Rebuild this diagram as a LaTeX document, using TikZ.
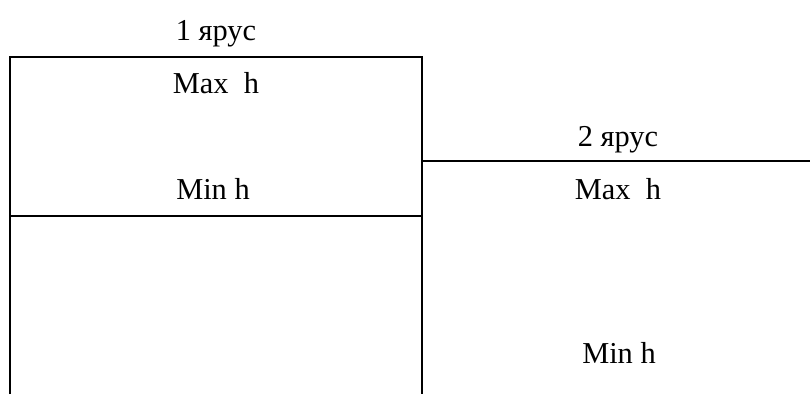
\documentclass[tikz,border=0pt]{standalone}
\usepackage{fontspec}
\setmainfont{Liberation Serif}
\begin{document}
\begin{tikzpicture}[x=1bp,y=-1bp,
  wall/.style={line width=2.6bp,line cap=butt},
  lbl/.style={anchor=base,inner sep=0pt,font=\fontsize{30.5}{34}\selectfont}]
\useasboundingbox (0,0) rectangle (810,394);
% tier 1 column
\coordinate (t1tl) at (10,57);
\coordinate (t1tr) at (422,57);
\coordinate (t1bl) at (10,394);
\coordinate (t1br) at (422,394);
\coordinate (t1ml) at (10,216);
\coordinate (t1mr) at (422,216);
% tier 2 level
\coordinate (t2l) at (422,161);
\coordinate (t2r) at (810,161);
\draw[wall] (t1bl) -- (t1tl) -- (t1tr) -- (t1br);
\draw[wall] (t1ml) -- (t1mr);
\draw[wall] (t2l) -- (t2r);
% labels
\node[lbl] (tier1) at (216,40) {1 ярус};
\node[lbl] (max1) at (216,93) {Max\ \ h};
\node[lbl] (min1) at (213,199) {Min h};
\node[lbl] (tier2) at (618,146) {2 ярус};
\node[lbl] (max2) at (618,199) {Max\ \ h};
\node[lbl] (min2) at (619,363) {Min h};
\end{tikzpicture}
\end{document}
